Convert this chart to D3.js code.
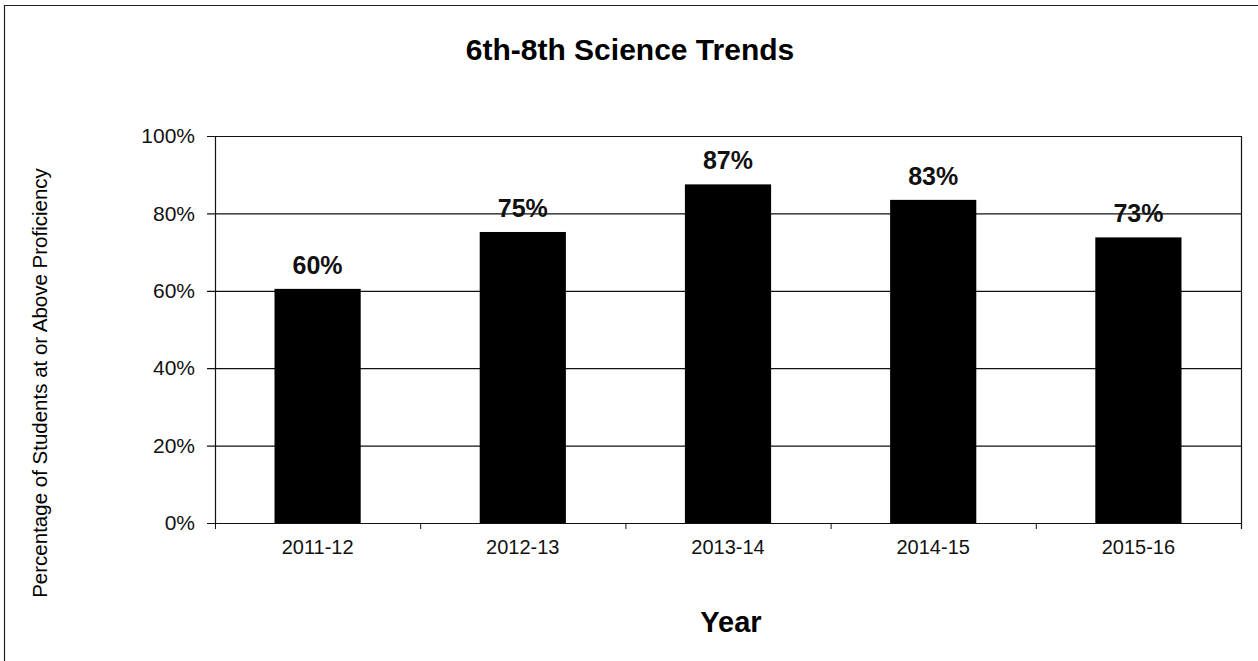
<!DOCTYPE html>
<html>
<head>
  <meta charset="UTF-8">
  <title>6th-8th Science Trends</title>
  <style>
    body { margin: 0; background: #fff; }
    svg { display: block; font-family: "Liberation Sans", Arial, sans-serif; }
    .grid line { stroke: #111; stroke-width: 1.2; }
    .yaxis text { font-size: 21px; fill: #111; }
    .xaxis text { font-size: 20px; fill: #111; }
    .barlabel { font-size: 25px; font-weight: bold; text-anchor: middle; fill: #111; }
  </style>
</head>
<body>
<svg></svg>
<script src="https://d3js.org/d3.v7.min.js"></script>
<script>

let width = 1258, height = 661;

// data
var years = ["2011-12", "2012-13", "2013-14", "2014-15", "2015-16"];
var pct = [60.5, 75.2, 87.5, 83.5, 73.8];
var pctLabels = ["60%", "75%", "87%", "83%", "73%"];
var yTicks = [0, 20, 40, 60, 80, 100];

let svg = d3.select("svg")
    .attr("width", width)
    .attr("height", height);

// outer frame (only top and left edges show in the scan)
svg.append("path")
    .attr("d", "M4.5," + height + "V5.5H" + width)
    .attr("fill", "none")
    .attr("stroke", "#222")
    .attr("stroke-width", 1.2);

let plotL = 215, plotR = 1241, plotT = 136, plotB = 523;

let x = d3.scaleBand()
    .domain(years)
    .range([plotL, plotR])
    .paddingInner(0.58)
    .paddingOuter(0.29);

let y = d3.scaleLinear()
    .domain([0, 100])
    .range([plotB, plotT]);

// gridlines
svg.append("g")
    .attr("class", "grid")
    .selectAll("line")
    .data(yTicks)
    .enter()
    .append("line")
    .attr("x1", plotL - 8)
    .attr("x2", plotR)
    .attr("y1", d => y(d) + 0.5)
    .attr("y2", d => y(d) + 0.5);

// plot frame sides
svg.append("line")
    .attr("x1", plotL + 0.5).attr("x2", plotL + 0.5)
    .attr("y1", plotT).attr("y2", plotB)
    .attr("stroke", "#111").attr("stroke-width", 1.2);
svg.append("line")
    .attr("x1", plotR + 0.5).attr("x2", plotR + 0.5)
    .attr("y1", plotT).attr("y2", plotB + 6)
    .attr("stroke", "#111").attr("stroke-width", 1.2);

// y axis labels
svg.append("g")
    .attr("class", "yaxis")
    .attr("transform", "translate(" + plotL + ",0)")
    .call(d3.axisLeft(y).tickValues(yTicks).tickFormat(d => d + "%").tickSize(0).tickPadding(20))
    .call(g => g.select(".domain").remove());

// x axis: category boundary ticks below baseline
let step = x.step();
let bounds = d3.range(years.length + 1).map(i => plotL + i * step);
svg.append("g")
    .selectAll("line")
    .data(bounds)
    .enter()
    .append("line")
    .attr("x1", d => d + 0.5).attr("x2", d => d + 0.5)
    .attr("y1", plotB).attr("y2", plotB + 6)
    .attr("stroke", "#111");

svg.append("g")
    .attr("class", "xaxis")
    .attr("transform", "translate(0," + plotB + ")")
    .call(d3.axisBottom(x).tickSize(0).tickPadding(17))
    .call(g => g.select(".domain").remove());

// bars
svg.append("g")
    .selectAll("rect")
    .data(pct)
    .enter()
    .append("rect")
    .attr("x", (d, i) => x(years[i]))
    .attr("width", x.bandwidth())
    .attr("y", d => y(d))
    .attr("height", d => y(0) - y(d))
    .attr("fill", "#000");

// value labels
svg.append("g")
    .selectAll("text")
    .data(pct)
    .enter()
    .append("text")
    .attr("class", "barlabel")
    .attr("x", (d, i) => x(years[i]) + x.bandwidth() / 2)
    .attr("y", d => y(d) - 15)
    .text((d, i) => pctLabels[i]);

// titles
svg.append("text")
    .attr("x", 630)
    .attr("y", 60)
    .attr("text-anchor", "middle")
    .style("font-size", "30px")
    .style("font-weight", "bold")
    .text("6th-8th Science Trends");

svg.append("text")
    .attr("x", 731)
    .attr("y", 632)
    .attr("text-anchor", "middle")
    .style("font-size", "29px")
    .style("font-weight", "bold")
    .text("Year");

svg.append("text")
    .attr("transform", "translate(47,383) rotate(-90)")
    .attr("text-anchor", "middle")
    .style("font-size", "20.5px")
    .text("Percentage of Students at or Above Proficiency");

</script>
</body>
</html>
